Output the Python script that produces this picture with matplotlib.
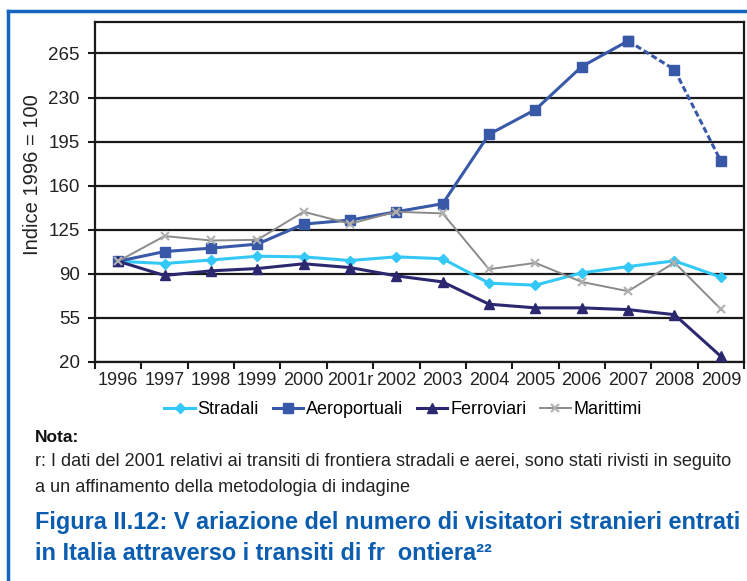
import numpy as np
import matplotlib
matplotlib.use("Agg")
import matplotlib.pyplot as plt
from matplotlib.lines import Line2D

years = ["1996", "1997", "1998", "1999", "2000", "2001r", "2002", "2003",
         "2004", "2005", "2006", "2007", "2008", "2009"]
stradali = [100, 98.2, 101, 104, 103.5, 100.6, 103.5, 102, 82.6, 81, 90.8, 95.8, 100.3, 87.4]
aeroportuali = [100, 107.7, 110.4, 113.6, 129.5, 132.7, 139.3, 145.7, 200.8, 220.4, 254.6, 275, 252.2, 179.6]
ferroviari = [100, 88.7, 92.4, 94.2, 98, 95, 88.4, 83.6, 65.9, 63, 63, 61.6, 57.6, 24.5]
marittimi = [100, 120, 116.5, 117, 139.3, 129.8, 139.3, 138, 93.7, 98.7, 83.6, 76.2, 99, 62]
yticks = [20, 55, 90, 125, 160, 195, 230, 265]
series_names = ["Stradali", "Aeroportuali", "Ferroviari", "Marittimi"]

c_str = "#33C8F5"
c_aer = "#3858A8"
c_fer = "#2B2870"
c_mar = "#8A8A8A"
c_mar_m = "#B0B0B0"
title_blue = "#0B5DAF"

sans = ["Liberation Sans", "DejaVu Sans"]

fig = plt.figure(figsize=(7.47, 5.81), dpi=100)
ax = fig.add_axes([95/747, 1-362/581, (744-95)/747, (362-22)/581])

x = np.arange(len(years))
ax.plot(x, stradali, color=c_str, lw=2.2, marker="D", ms=5.5, mec=c_str, mfc=c_str, zorder=5)
ax.plot(x[:12], aeroportuali[:12], color=c_aer, lw=2.2, marker="s", ms=6.5, zorder=5)
ax.plot(x[11:], aeroportuali[11:], color=c_aer, lw=2.2, ls=(0, (2, 1)), marker="s", ms=6.5, zorder=5)
ax.plot(x, ferroviari, color=c_fer, lw=2.2, marker="^", ms=7, zorder=5)
ax.plot(x, marittimi, color=c_mar, lw=1.4, marker="x", ms=6, mec=c_mar_m, mew=1.5, zorder=6)

ax.set_xlim(-0.5, len(years) - 0.5)
ax.set_ylim(20, 290)
ax.set_yticks(yticks)
ax.set_yticklabels([str(v) for v in yticks], fontsize=13.5, family=sans, color="#222222")
ax.yaxis.grid(True, color="#1a1a1a", lw=1.6)
ax.set_axisbelow(True)
ax.set_xticks(x)
ax.set_xticklabels(years, fontsize=13, family=sans, color="#222222")
ax.tick_params(axis="x", which="major", length=0, pad=7)
ax.set_xticks(np.arange(len(years) + 1) - 0.5, minor=True)
ax.tick_params(axis="x", which="minor", length=5, width=1.5, color="#1a1a1a")
ax.tick_params(axis="y", length=5, width=1.5, color="#1a1a1a", pad=6)
for s in ax.spines.values():
    s.set_color("#1a1a1a")
    s.set_linewidth(1.6)
fig.text(33/747, 1-175/581, "Indice 1996 = 100", fontsize=14.5, family=sans, color="#222222",
         rotation=90, ha="center", va="center")

handles = [
    Line2D([], [], color=c_str, lw=2.2, marker="D", ms=5.5),
    Line2D([], [], color=c_aer, lw=2.2, marker="s", ms=6.5),
    Line2D([], [], color=c_fer, lw=2.2, marker="^", ms=7),
    Line2D([], [], color=c_mar, lw=1.4, marker="x", ms=6, mec=c_mar_m, mew=1.5),
]
fig.legend(handles, series_names, loc="center", bbox_to_anchor=(403/747, 1-410/581),
           ncol=4, frameon=False, prop={"family": sans, "size": 13},
           handlelength=1.7, handletextpad=0.15, columnspacing=0.75)

# border
fig.add_artist(Line2D([8/747, 1], [1-11/581, 1-11/581], color="#1565C0", lw=2.5, transform=fig.transFigure))
fig.add_artist(Line2D([8/747, 8/747], [0, 1-11/581], color="#1565C0", lw=2.5, transform=fig.transFigure))

fig.text(35/747, 1-437/581, "Nota:", fontsize=12.5, fontweight="bold", family=sans, va="center", color="#111111")
fig.text(35/747, 1-462/581, "r: I dati del 2001 relativi ai transiti di frontiera stradali e aerei, sono stati rivisti in seguito",
         fontsize=13.1, family=sans, va="center", color="#222222")
fig.text(35/747, 1-487/581, "a un affinamento della metodologia di indagine",
         fontsize=13.1, family=sans, va="center", color="#222222")
fig.text(35/747, 1-522/581, "Figura II.12: V ariazione del numero di visitatori stranieri entrati",
         fontsize=16.9, fontweight="bold", family=sans, va="center", color=title_blue)
fig.text(35/747, 1-553/581, "in Italia attraverso i transiti di fr  ontiera\u00b2\u00b2",
         fontsize=16.9, fontweight="bold", family=sans, va="center", color=title_blue)

fig.savefig("out.png", dpi=100)
